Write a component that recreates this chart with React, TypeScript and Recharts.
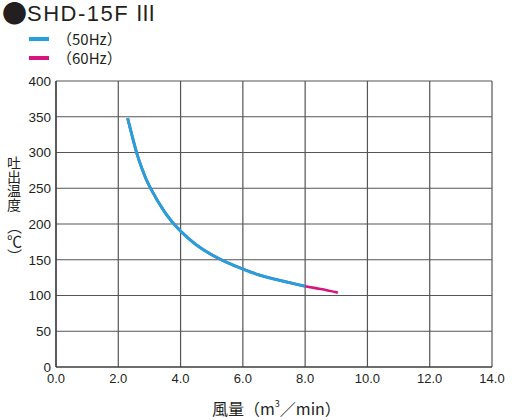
import React from "react";
import { LineChart, Line, XAxis, YAxis, CartesianGrid } from "recharts";

const flow50 = [2.3, 2.6, 2.8, 3.0, 3.5, 4.0, 4.5, 5.0, 5.5, 6.0, 6.5, 7.0, 7.5, 8.0];
const temp50 = [348, 298, 273, 253, 216, 190, 171, 157, 146, 137, 129, 123, 118, 113];
const flow60 = [2.3, 2.6, 2.8, 3.0, 3.5, 4.0, 4.5, 5.0, 5.5, 6.0, 6.5, 7.0, 7.5, 8.0, 8.5, 9.05];
const temp60 = [348, 298, 273, 253, 216, 190, 171, 157, 146, 137, 129, 123, 118, 113, 109, 104];
const xTicks = [0, 2, 4, 6, 8, 10, 12, 14];
const yTicks = [0, 50, 100, 150, 200, 250, 300, 350, 400];
const seriesNames = ["（50Hz）", "（60Hz）"];
const seriesColors = ["#24a0dc", "#d8147f"];
const yLabel = "吐出温度";
const yUnit = "（℃）";

const data50 = flow50.map((x, i) => ({ x, y: temp50[i] }));
const data60 = flow60.map((x, i) => ({ x, y: temp60[i] }));

const FONT = '"Liberation Sans", Arial, "Noto Sans CJK JP", sans-serif';
const CJK = '"Noto Sans CJK JP", "Liberation Sans", sans-serif';
const INK = "#231f20";

export default function App() {
  return (
    <div style={{ position: "absolute", left: 0, top: 0, width: 512, height: 420, background: "#fff" }}>
      <span style={{ position: "absolute", left: 2, top: 0, fontFamily: CJK, fontSize: 25, lineHeight: "25px", color: INK }}>●</span>
      <span
        style={{
          position: "absolute",
          left: 27,
          top: 2.5,
          fontFamily: FONT,
          fontSize: 22,
          lineHeight: "22px",
          letterSpacing: 1.5,
          color: INK,
          whiteSpace: "nowrap",
        }}
      >
        SHD-15F
      </span>
      <span style={{ position: "absolute", left: 135, top: 1.5, fontFamily: CJK, fontSize: 21, lineHeight: "21px", color: INK }}>Ⅲ</span>
      <div style={{ position: "absolute", left: 29, top: 29 }}>
        {seriesNames.map((n, i) => (
          <div key={n} style={{ display: "flex", alignItems: "center", height: 19 }}>
            <div style={{ width: 20, height: 4, background: seriesColors[i], marginRight: 8 }} />
            <span style={{ fontSize: 15, color: INK, fontFamily: CJK, lineHeight: "19px" }}>{n}</span>
          </div>
        ))}
      </div>
      <LineChart
        width={512}
        height={420}
        margin={{ top: 81, right: 20, bottom: 23, left: 0 }}
      >
        <CartesianGrid stroke="#555" strokeWidth={1.2} />
        <XAxis
          type="number"
          dataKey="x"
          domain={[0, 14]}
          ticks={xTicks}
          interval={0}
          tickFormatter={(v: number) => v.toFixed(1)}
          tickLine={false}
          tickSize={0}
          tickMargin={7}
          height={30}
          axisLine={{ stroke: "#333", strokeWidth: 1.2 }}
          tick={{ fill: INK, fontSize: 13, fontFamily: FONT }}
          allowDataOverflow
        />
        <YAxis
          type="number"
          domain={[0, 400]}
          ticks={yTicks}
          interval={0}
          tickLine={false}
          tickSize={0}
          tickMargin={5}
          width={56}
          axisLine={{ stroke: "#333", strokeWidth: 1.2 }}
          tick={{ fill: INK, fontSize: 13.5, fontFamily: FONT }}
        />
        <Line
          data={data60}
          dataKey="y"
          type="natural"
          stroke={seriesColors[1]}
          strokeWidth={2.6}
          dot={false}
          isAnimationActive={false}
          name={seriesNames[1]}
        />
        <Line
          data={data50}
          dataKey="y"
          type="natural"
          stroke={seriesColors[0]}
          strokeWidth={3}
          dot={false}
          isAnimationActive={false}
          name={seriesNames[0]}
        />
      </LineChart>
      <div
        style={{
          position: "absolute",
          left: 6,
          top: 156,
          writingMode: "vertical-rl",
          fontFamily: CJK,
          fontSize: 14,
          lineHeight: "16px",
          color: INK,
          whiteSpace: "nowrap",
        }}
      >
        {yLabel}
      </div>
      <div
        style={{
          position: "absolute",
          left: 5,
          top: 219,
          writingMode: "vertical-rl",
          fontFamily: CJK,
          fontSize: 15,
          lineHeight: "18px",
          color: INK,
          whiteSpace: "nowrap",
        }}
      >
        {yUnit}
      </div>
      <div
        style={{
          position: "absolute",
          left: 212,
          top: 397,
          fontFamily: CJK,
          fontSize: 16,
          lineHeight: "22px",
          color: INK,
          whiteSpace: "nowrap",
        }}
      >
        風量（m<sup style={{ fontSize: 9, verticalAlign: "top", lineHeight: "14px" }}>3</sup>／min）
      </div>
    </div>
  );
}
